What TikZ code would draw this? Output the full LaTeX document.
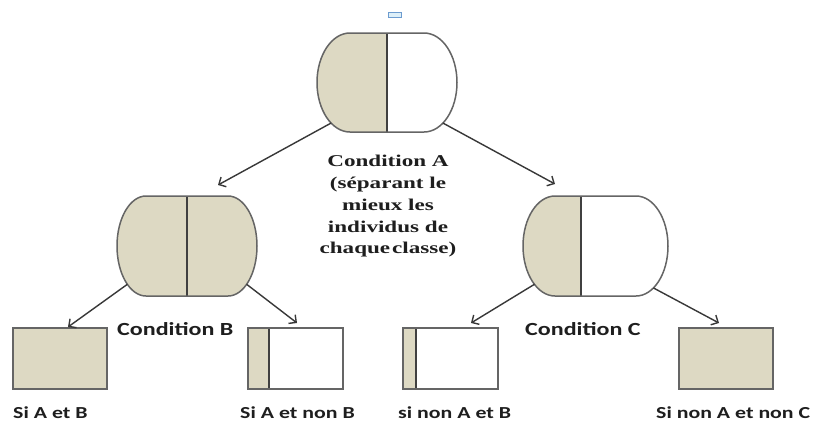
\documentclass[tikz,border=0pt]{standalone}
\usepackage{fontspec}
\usetikzlibrary{arrows.meta,calc}
\newfontfamily\labelfont[FakeStretch=1.3]{Carlito}
\newfontfamily\condfont[FakeStretch=1.4]{Liberation Serif}
\definecolor{beigefill}{HTML}{DDD9C3}
\definecolor{edgegray}{HTML}{656565}
\definecolor{divgray}{HTML}{404040}
\definecolor{arrowgray}{HTML}{383838}
\definecolor{textgray}{HTML}{1E1E1E}
\definecolor{bluefill}{HTML}{DDEFF8}
\definecolor{blueedge}{HTML}{6C9BCF}

\tikzset{
  outline/.style={draw=edgegray, line width=1.5pt},
  divider/.style={draw=divgray, line width=1.6pt},
  leaf/.style={rectangle, draw=edgegray, line width=1.5pt, inner sep=0pt,
    minimum height=61pt},
  link/.style={draw=arrowgray, line width=1.4pt,
    -{Straight Barb[length=5.5pt,width=11pt]}},
  cond/.style={font=\labelfont\bfseries\fontsize{18.5}{22}\selectfont,
    text=textgray, anchor=base west, inner sep=0pt},
  leaflabel/.style={font=\labelfont\bfseries\fontsize{16.8}{20}\selectfont,
    text=textgray, anchor=base west, inner sep=0pt},
  serifline/.style={font=\condfont\bfseries\fontsize{16.5}{22}\selectfont,
    text=textgray, anchor=base, inner sep=0pt},
}

% Split capsule: #1 name, #2 left x, #3 right x, #4 top y, #5 bottom y,
% #6 horizontal radius of the end caps, #7 divider x, #8 colour of the right half
\newcommand{\pill}[8]{%
  \fill[#8] (#2+#6,#4) -- (#3-#6,#4)
    arc[start angle=-90,end angle=90,x radius=#6,y radius={(#5-#4)/2}]
    -- (#2+#6,#5)
    arc[start angle=90,end angle=270,x radius=#6,y radius={(#5-#4)/2}] -- cycle;
  \begin{scope}
    \clip (#2-3,#4-3) rectangle (#7,#5+3);
    \fill[beigefill] (#2+#6,#4) -- (#3-#6,#4)
      arc[start angle=-90,end angle=90,x radius=#6,y radius={(#5-#4)/2}]
      -- (#2+#6,#5)
      arc[start angle=90,end angle=270,x radius=#6,y radius={(#5-#4)/2}] -- cycle;
  \end{scope}
  \draw[divider] (#7,#4) -- (#7,#5);
  \draw[outline] (#2+#6,#4) -- (#3-#6,#4)
    arc[start angle=-90,end angle=90,x radius=#6,y radius={(#5-#4)/2}]
    -- (#2+#6,#5)
    arc[start angle=90,end angle=270,x radius=#6,y radius={(#5-#4)/2}] -- cycle;
  \node[inner sep=0pt, minimum width={(#3-#2)*1pt}, minimum height={(#5-#4)*1pt}]
    (#1) at ({(#2+#3)/2},{(#4+#5)/2}) {};
}

\begin{document}
\begin{tikzpicture}[x=1pt,y=-1pt]
  \useasboundingbox (0,0) rectangle (814,421);
  \fill[white] (0,0) rectangle (814,421);

  % small marker above the root
  \draw[draw=blueedge, fill=bluefill, line width=0.8pt] (388,12) rectangle (401,17);

  % root and the two inner splits
  \pill{capA}{317}{457}{33}{132}{33}{387}{white}
  \pill{capB}{117}{257}{196}{296}{29}{187}{beigefill}
  \pill{capC}{523}{668}{196}{296}{32}{581}{white}

  % leaves
  \node[leaf, fill=beigefill, minimum width=94pt] (leafAB) at (60,358.5) {};
  \node[leaf, fill=white, minimum width=95pt,
    path picture={
      \fill[beigefill] (path picture bounding box.north west) rectangle
        ([xshift=21pt]path picture bounding box.south west);
      \draw[divider] ([xshift=21pt]path picture bounding box.north west) --
        ([xshift=21pt]path picture bounding box.south west);
    }] (leafAnB) at (295.5,358.5) {};
  \node[leaf, fill=white, minimum width=95pt,
    path picture={
      \fill[beigefill] (path picture bounding box.north west) rectangle
        ([xshift=13pt]path picture bounding box.south west);
      \draw[divider] ([xshift=13pt]path picture bounding box.north west) --
        ([xshift=13pt]path picture bounding box.south west);
    }] (leafnAB) at (450.5,358.5) {};
  \node[leaf, fill=beigefill, minimum width=94pt] (leafnAnC) at (726,358.5) {};

  % arrow start points on the capsule outlines
  \coordinate (A-l) at ($(350,82.5)+(125:33 and 49.5)$);
  \coordinate (A-r) at ($(424,82.5)+(55:33 and 49.5)$);
  \coordinate (B-l) at ($(146,246)+(130:29 and 50)$);
  \coordinate (B-r) at ($(228,246)+(50:29 and 50)$);
  \coordinate (C-l) at ($(555,246)+(130:32 and 50)$);
  \coordinate (C-r) at ($(636,246)+(57:32 and 50)$);

  % arrow tips
  \coordinate (tipB) at (218,185);
  \coordinate (tipC) at (555,184);
  \coordinate (tipAB) at (68,327);
  \coordinate (tipAnB) at (297,323);
  \coordinate (tipnAB) at (471,323);
  \coordinate (tipnAnC) at (719,323);

  \draw[link] (A-l) -- (tipB);
  \draw[link] (A-r) -- (tipC);
  \draw[link] (B-l) -- (tipAB);
  \draw[link] (B-r) -- (tipAnB);
  \draw[link] (C-l) -- (tipnAB);
  \draw[link] (C-r) -- (tipnAnC);

  % description of the first split
  \node[serifline] (condA1) at (388,166) {Condition A};
  \node[serifline] (condA2) at (388,188) {(séparant le};
  \node[serifline] (condA3) at (388,210) {mieux les};
  \node[serifline] (condA4) at (388,232) {individus de};
  \node[serifline] (condA5) at (388,253) {chaque\hspace{0.12em}classe)};

  % condition labels
  \node[cond] (condB) at (117,335) {Condition B};
  \node[cond] (condC) at (525,335) {Condition C};

  % leaf labels
  \node[leaflabel] (labAB) at (13,418) {Si A et B};
  \node[leaflabel] (labAnB) at (240,418) {Si A et non B};
  \node[leaflabel] (labnAB) at (398,418) {si non A et B};
  \node[leaflabel] (labnAnC) at (656,418) {Si non A et non C};
\end{tikzpicture}
\end{document}
